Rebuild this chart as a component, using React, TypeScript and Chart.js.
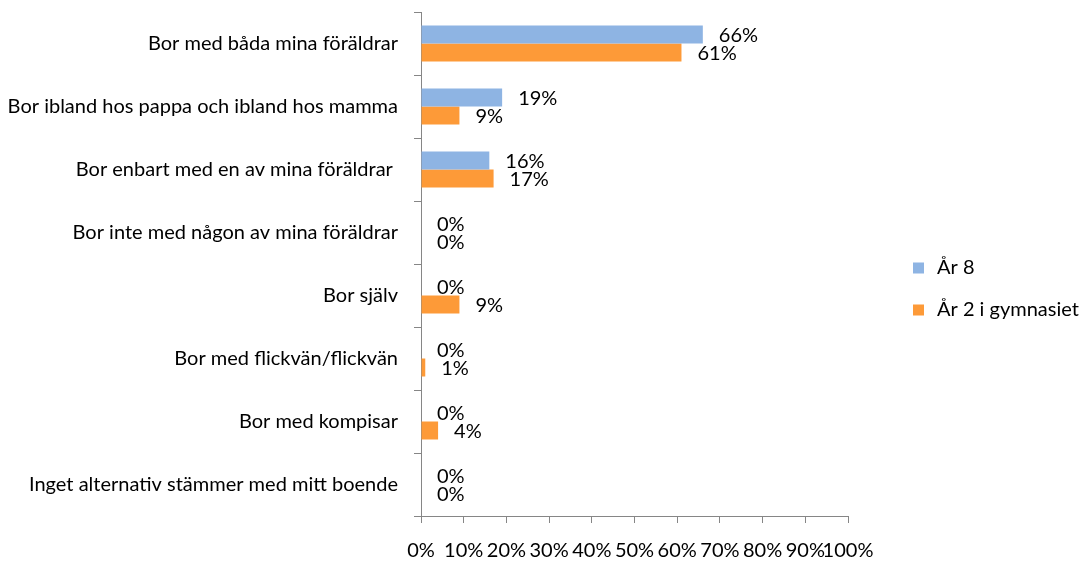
import React, { useEffect, useRef } from "react";
import { Chart, registerables } from "chart.js";

Chart.register(...registerables);

const categories = [
  "Bor med båda mina föräldrar",
  "Bor ibland hos pappa och ibland hos mamma",
  "Bor enbart med en av mina föräldrar ",
  "Bor inte med någon av mina föräldrar",
  "Bor själv",
  "Bor med flickvän/flickvän",
  "Bor med kompisar",
  "Inget alternativ stämmer med mitt boende",
];
const year8Values = [66, 19, 16, 0, 0, 0, 0, 0];
const gymnasiumValues = [61, 9, 17, 0, 9, 1, 4, 0];
const seriesNames = ["År 8", "År 2 i gymnasiet"];
const seriesColors = ["#8EB4E3", "#FD9A38"];
const xMin = 0;
const xMax = 100;
const xStep = 10;

const FONT = "Lato";
const FONT_SIZE = 20;
const AXIS_COLOR = "#868686";

const dataLabelPlugin = {
  id: "dataLabels",
  afterDatasetsDraw(chart: any) {
    const ctx = chart.ctx;
    ctx.save();
    ctx.font = `${FONT_SIZE}px ${FONT}`;
    ctx.fillStyle = "#000";
    ctx.textAlign = "left";
    ctx.textBaseline = "middle";
    chart.data.datasets.forEach((ds: any, di: number) => {
      const meta = chart.getDatasetMeta(di);
      meta.data.forEach((el: any, i: number) => {
        ctx.fillText(`${ds.data[i]}%`, el.x + 16, el.y + 1);
      });
    });
    ctx.restore();
  },
};

const legendPlugin = {
  id: "customLegend",
  afterDraw(chart: any) {
    const ctx = chart.ctx;
    const area = chart.chartArea;
    ctx.save();
    ctx.font = `${FONT_SIZE}px ${FONT}`;
    ctx.textAlign = "left";
    ctx.textBaseline = "middle";
    const left = area.right + 65;
    const startY = chart.height / 2 + 7.5 - 21;
    chart.data.datasets.forEach((ds: any, i: number) => {
      const cy = startY + i * 42;
      ctx.fillStyle = ds.backgroundColor;
      ctx.fillRect(left, cy - 5.5, 11, 11);
      ctx.fillStyle = "#000";
      ctx.fillText(ds.label, left + 24, cy);
    });
    ctx.restore();
  },
};

export default function App() {
  const canvasRef = useRef<HTMLCanvasElement | null>(null);

  useEffect(() => {
    let chart: Chart | null = null;
    let cancelled = false;
    const create = () => {
      if (cancelled || !canvasRef.current) return;
      chart = new Chart(canvasRef.current, {
        type: "bar",
        data: {
          labels: categories,
          datasets: [
            {
              label: seriesNames[0],
              data: year8Values,
              backgroundColor: seriesColors[0],
              borderWidth: 0,
            },
            {
              label: seriesNames[1],
              data: gymnasiumValues,
              backgroundColor: seriesColors[1],
              borderWidth: 0,
            },
          ],
        },
        options: {
          indexAxis: "y",
          responsive: true,
          maintainAspectRatio: false,
          animation: false,
          layout: { padding: { top: 12, left: 0, right: 232, bottom: 0 } },
          datasets: {
            bar: { categoryPercentage: 2 / 3.5, barPercentage: 1 },
          },
          plugins: {
            legend: { display: false },
            tooltip: { enabled: false },
          },
          scales: {
            y: {
              type: "category",
              offset: true,
              afterFit(scale: any) {
                scale.width = 421;
                scale.paddingTop = 0;
                scale.paddingBottom = 0;
              },
              grid: {
                offset: true,
                drawOnChartArea: false,
                tickLength: 7,
                color: AXIS_COLOR,
              },
              border: { display: true, color: AXIS_COLOR, width: 1 },
              ticks: {
                color: "#000",
                padding: 16,
                font: { family: FONT, size: FONT_SIZE },
              },
            },
            x: {
              type: "linear",
              min: xMin,
              max: xMax,
              afterFit(scale: any) {
                scale.height = 47;
              },
              grid: {
                drawOnChartArea: false,
                tickLength: 7,
                color: AXIS_COLOR,
              },
              border: { display: true, color: AXIS_COLOR, width: 1 },
              ticks: {
                stepSize: xStep,
                color: "#000",
                padding: 16,
                maxRotation: 0,
                autoSkip: false,
                font: { family: FONT, size: FONT_SIZE },
                callback: (v: any) => `${v}%`,
              },
            },
          },
        },
        plugins: [dataLabelPlugin, legendPlugin],
      });
    };
    const fontsReady = (document as any).fonts
      ? (document as any).fonts.load(`${FONT_SIZE}px ${FONT}`).catch(() => null)
      : Promise.resolve();
    fontsReady.then(create);
    return () => {
      cancelled = true;
      if (chart) chart.destroy();
    };
  }, []);

  return (
    <div
      style={{
        position: "fixed",
        left: 0,
        top: 0,
        width: 1080,
        height: 563,
        background: "#fff",
      }}
    >
      <canvas ref={canvasRef} />
    </div>
  );
}
